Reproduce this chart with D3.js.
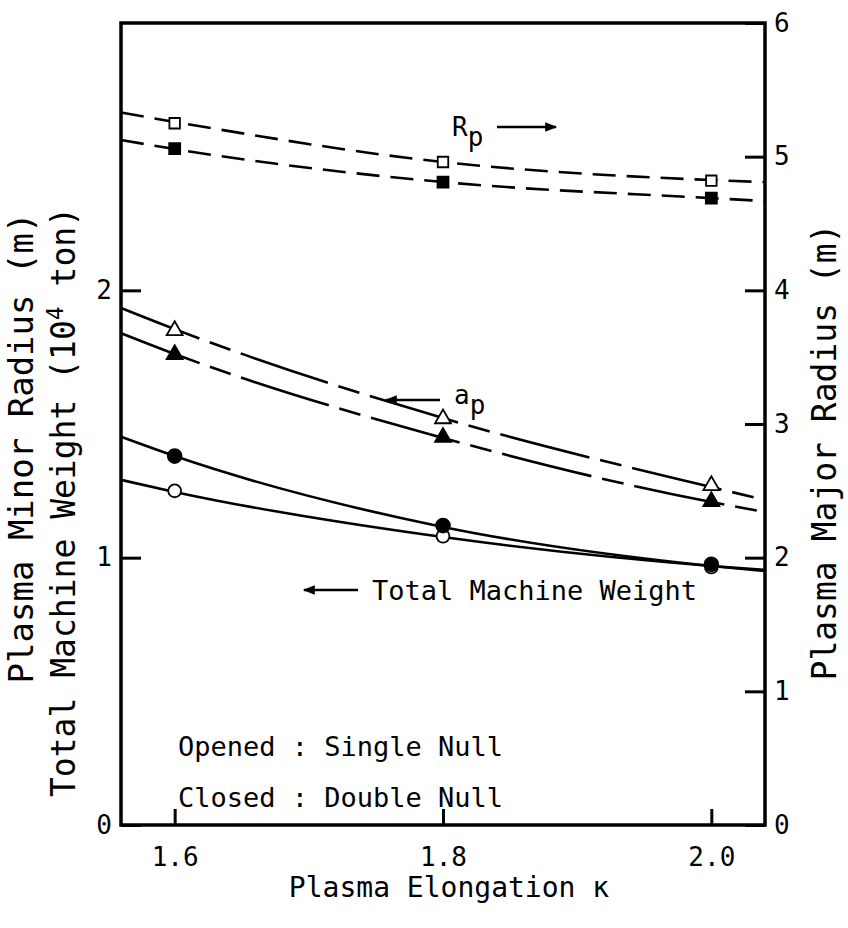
<!DOCTYPE html>
<html><head><meta charset="utf-8">
<script src="https://cdn.jsdelivr.net/npm/d3@7"></script>
<style>
body{margin:0;background:#fff}
svg{display:block}
text{font-family:"DejaVu Sans Mono","Liberation Mono",monospace;fill:#000}
</style></head>
<body><svg id="chart" width="848" height="928"></svg>
<script>
// ---- data ----
const kappa = [1.6, 1.8, 2.0];                 // marker positions
const kFit = [1.56, 1.6, 1.8, 2.0, 2.04];      // positions where the fitted curves were read

// Plasma major radius Rp (m) – right axis
const rpSingle = [5.25, 4.96, 4.82];
const rpDouble = [5.06, 4.81, 4.69];
const rpSingleFit = [5.33, 5.26, 4.96, 4.825, 4.81];
const rpDoubleFit = [5.125, 5.057, 4.81, 4.69, 4.668];

// Plasma minor radius ap (m) – left axis
const apSingle = [1.85, 1.52, 1.27];
const apDouble = [1.76, 1.45, 1.21];
const apSingleFit = [1.934, 1.855, 1.522, 1.264, 1.216];
const apDoubleFit = [1.840, 1.762, 1.448, 1.208, 1.171];

// Total machine weight (10^4 ton) – left axis
const twSingle = [1.25, 1.08, 0.965];
const twDouble = [1.38, 1.12, 0.975];
const twSingleFit = [1.291, 1.246, 1.077, 0.969, 0.954];
const twDoubleFit = [1.452, 1.380, 1.115, 0.969, 0.950];

const xTicks = [1.6, 1.8, 2.0];
const xTickLabels = ["1.6", "1.8", "2.0"];
const leftTicks = [0, 1, 2];
const rightTicks = [0, 1, 2, 3, 4, 5, 6];

// ---- layout ----
const svg = d3.select("#chart");
const L = 121, R = 765, T = 23, B = 825;
const x = d3.scaleLinear().domain([1.56, 2.04]).range([L, R]);
const yL = d3.scaleLinear().domain([0, 3]).range([B, T]);
const yR = d3.scaleLinear().domain([0, 6]).range([B, T]);

// axes
const gx = svg.append("g").attr("transform", `translate(0,${B})`)
  .call(d3.axisBottom(x).tickValues(xTicks).tickFormat((d, i) => xTickLabels[i])
    .tickSize(-16).tickPadding(23));
const gl = svg.append("g").attr("transform", `translate(${L},0)`)
  .call(d3.axisLeft(yL).tickValues(leftTicks).tickFormat(d3.format("d"))
    .tickSize(-20).tickPadding(9));
const gr = svg.append("g").attr("transform", `translate(${R},0)`)
  .call(d3.axisRight(yR).tickValues(rightTicks).tickFormat(d3.format("d"))
    .tickSize(-20).tickPadding(9));
[gx, gl, gr].forEach(g => {
  g.select(".domain").remove();
  g.selectAll(".tick line").attr("stroke", "#000").attr("stroke-width", 3);
  g.selectAll(".tick text").style("font-size", "26px")
    .style("font-family", "'DejaVu Sans Mono', monospace");
});

// frame
svg.append("rect").attr("x", L).attr("y", T).attr("width", R - L).attr("height", B - T)
  .attr("fill", "none").attr("stroke", "#000").attr("stroke-width", 3.5);

// curves
function curve(vals, y, dash, offset) {
  const line = d3.line().x((d, i) => x(kFit[i])).y(d => y(d)).curve(d3.curveMonotoneX);
  const p = svg.append("path").datum(vals).attr("d", line)
    .attr("fill", "none").attr("stroke", "#000").attr("stroke-width", 2.6);
  if (dash) p.attr("stroke-dasharray", dash).attr("stroke-dashoffset", offset || 0);
}
curve(rpSingleFit, yR, "23,11", 0);
curve(rpDoubleFit, yR, "23,11", 0);
curve(apSingleFit, yL, "92,11,22,11", 8);
curve(apDoubleFit, yL, "92,11,22,11", 8);
curve(twSingleFit, yL, null);
curve(twDoubleFit, yL, null);

// markers
function markers(vals, y, type, size, filled) {
  svg.append("g").selectAll("path").data(vals).join("path")
    .attr("transform", (d, i) => `translate(${x(kappa[i])},${y(d)})`)
    .attr("d", d3.symbol().type(type).size(size))
    .attr("fill", filled ? "#000" : "#fff").attr("stroke", "#000").attr("stroke-width", 1.8);
}
markers(rpSingle, yR, d3.symbolSquare, 110, false);
markers(rpDouble, yR, d3.symbolSquare, 120, true);
markers(apSingle, yL, d3.symbolTriangle, 110, false);
markers(apDouble, yL, d3.symbolTriangle, 110, true);
markers(twSingle, yL, d3.symbolCircle, 130, false);
markers(twDouble, yL, d3.symbolCircle, 150, true);

// arrows
svg.append("defs").append("marker").attr("id", "ah").attr("viewBox", "0 0 10 10")
  .attr("refX", 9).attr("refY", 5).attr("markerWidth", 16).attr("markerHeight", 12)
  .attr("markerUnits", "userSpaceOnUse").attr("orient", "auto")
  .append("path").attr("d", "M0,1 L10,5 L0,9 Z").attr("fill", "#000");
function arrow(x1, y1, x2, y2) {
  svg.append("line").attr("x1", x1).attr("y1", y1).attr("x2", x2).attr("y2", y2)
    .attr("stroke", "#000").attr("stroke-width", 2.6).attr("marker-end", "url(#ah)");
}
arrow(497, 127, 556, 127);
arrow(440, 400, 386, 400);
arrow(358, 590, 304, 590);

// annotation labels
function sub(xp, yp, main, s) {
  const t = svg.append("text").attr("x", xp).attr("y", yp).style("font-size", "26px");
  t.append("tspan").text(main);
  t.append("tspan").attr("dy", 10).text(s);
}
sub(452, 136, "R", "p");
sub(454, 404, "a", "p");
svg.append("text").attr("x", 372).attr("y", 600).style("font-size", "27px").text("Total Machine Weight");
svg.append("text").attr("x", 178).attr("y", 756).style("font-size", "27px").text("Opened : Single Null");
svg.append("text").attr("x", 178).attr("y", 807).style("font-size", "27px").text("Closed : Double Null");

// axis titles
svg.append("text").attr("x", 449).attr("y", 897).attr("text-anchor", "middle")
  .style("font-size", "28px").text("Plasma Elongation κ");
svg.append("text").attr("transform", "translate(33,448) rotate(-90)").attr("text-anchor", "middle")
  .style("font-size", "34px").text("Plasma Minor Radius (m)");
const t2 = svg.append("text").attr("transform", "translate(75,502) rotate(-90)").attr("text-anchor", "middle")
  .style("font-size", "33px");
t2.append("tspan").text("Total Machine Weight (10");
t2.append("tspan").attr("dy", -12).style("font-size", "23px").text("4");
t2.append("tspan").attr("dy", 12).text(" ton)");
svg.append("text").attr("transform", "translate(836,452) rotate(-90)").attr("text-anchor", "middle")
  .style("font-size", "33px").text("Plasma Major Radius (m)");
</script></body></html>
